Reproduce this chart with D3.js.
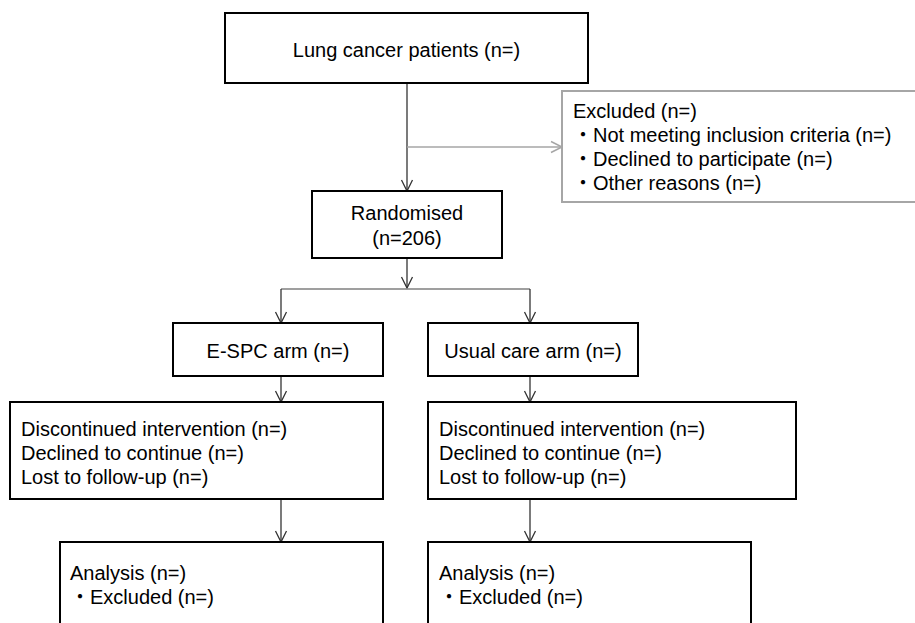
<!DOCTYPE html>
<html>
<head>
<meta charset="utf-8">
<script src="https://cdn.jsdelivr.net/npm/d3@7"></script>
<style>
  html, body { margin: 0; padding: 0; background: #fff; }
  svg { display: block; }
  text { font-family: "Liberation Sans", Arial, "Noto Sans CJK JP", sans-serif; font-size: 20px; fill: #000; }
</style>
</head>
<body>
<svg id="chart" width="915" height="623"></svg>
<script>
// ---- content ----
const enrolLines = ["Lung cancer patients (n=)"];
const excludedLines = [
  "Excluded (n=)",
  "\u30FBNot meeting inclusion criteria (n=)",
  "\u30FBDeclined to participate (n=)",
  "\u30FBOther reasons (n=)"
];
const randomisedN = 206;
const randomisedLines = ["Randomised", "(n=" + randomisedN + ")"];
const armLabels = ["E-SPC arm (n=)", "Usual care arm (n=)"];
const followUpLines = ["Discontinued intervention (n=)", "Declined to continue (n=)", "Lost to follow-up (n=)"];
const analysisLines = ["Analysis (n=)", "\u30FBExcluded (n=)"];

// ---- layout (separate from content) ----
const layout = {
  enrol:      {x0: 225, x1: 588, y0: 13, y1: 83, align: "middle", lineY: [50]},
  excluded:   {x0: 562, x1: 960, y0: 91, y1: 202, align: "start", tx: 573, lineY: [111, 135, 159, 183], stroke: "#a6a6a6"},
  randomised: {x0: 312, x1: 502, y0: 191, y1: 258, align: "middle", lineY: [213, 238]},
  arms: [
    {x0: 173, x1: 383, y0: 323, y1: 376, align: "middle", lineY: [351]},
    {x0: 428, x1: 638, y0: 323, y1: 376, align: "middle", lineY: [351]}
  ],
  followUp: [
    {x0: 10, x1: 383, y0: 402, y1: 499, align: "start", tx: 21, lineY: [429, 453, 477]},
    {x0: 428, x1: 796, y0: 402, y1: 499, align: "start", tx: 439, lineY: [429, 453, 477]}
  ],
  analysis: [
    {x0: 60, x1: 383, y0: 542, y1: 660, align: "start", tx: 70, lineY: [573, 597]},
    {x0: 428, x1: 751, y0: 542, y1: 660, align: "start", tx: 439, lineY: [573, 597]}
  ],
  mainX: 407,
  armX: [281, 530],
  splitY: 289,
  excludeY: 147
};

const svg = d3.select("#chart");
const gLines = svg.append("g");
const gBoxes = svg.append("g");

function drawBox(b, lines) {
  const g = gBoxes.append("g");
  g.append("rect")
    .attr("x", b.x0).attr("y", b.y0)
    .attr("width", b.x1 - b.x0).attr("height", b.y1 - b.y0)
    .attr("fill", "#fff")
    .attr("stroke", b.stroke || "#000")
    .attr("stroke-width", 2);
  const tx = b.align === "middle" ? (b.x0 + b.x1) / 2 : b.tx;
  g.selectAll("text").data(lines).join("text")
    .attr("x", tx)
    .attr("y", (d, i) => b.lineY[i])
    .attr("dy", "0.35em")
    .attr("text-anchor", b.align)
    .text(d => d);
}

function arrow(x1, y1, x2, y2, color, width) {
  gLines.append("line")
    .attr("x1", x1).attr("y1", y1).attr("x2", x2).attr("y2", y2)
    .attr("stroke", color).attr("stroke-width", width);
  const ang = Math.atan2(y2 - y1, x2 - x1);
  const L = 11, W = 5.5;
  const bx = x2 - L * Math.cos(ang), by = y2 - L * Math.sin(ang);
  const px = -Math.sin(ang) * W, py = Math.cos(ang) * W;
  gLines.append("path")
    .attr("d", `M${bx + px},${by + py}L${x2},${y2}L${bx - px},${by - py}`)
    .attr("fill", "none").attr("stroke", color).attr("stroke-width", width);
}
function line(x1, y1, x2, y2, color, width) {
  gLines.append("line")
    .attr("x1", x1).attr("y1", y1).attr("x2", x2).attr("y2", y2)
    .attr("stroke", color).attr("stroke-width", width);
}

const dark = "#333", grey = "#a6a6a6", mid = "#7f7f7f";

// connectors
arrow(layout.mainX, layout.enrol.y1, layout.mainX, layout.randomised.y0, dark, 1.3);
arrow(layout.mainX, layout.excludeY, layout.excluded.x0, layout.excludeY, grey, 1.5);
arrow(layout.mainX, layout.randomised.y1, layout.mainX, layout.splitY - 1, dark, 1.3);
line(layout.armX[0], layout.splitY, layout.armX[1], layout.splitY, mid, 1.3);
layout.armX.forEach((ax, i) => {
  arrow(ax, layout.splitY, ax, layout.arms[i].y0, dark, 1.3);
  arrow(ax, layout.arms[i].y1, ax, layout.followUp[i].y0, dark, 1.3);
  arrow(ax, layout.followUp[i].y1, ax, layout.analysis[i].y0, dark, 1.3);
});

// boxes
drawBox(layout.enrol, enrolLines);
drawBox(layout.excluded, excludedLines);
drawBox(layout.randomised, randomisedLines);
armLabels.forEach((lab, i) => drawBox(layout.arms[i], [lab]));
layout.followUp.forEach(b => drawBox(b, followUpLines));
layout.analysis.forEach(b => drawBox(b, analysisLines));
</script>
</body>
</html>
